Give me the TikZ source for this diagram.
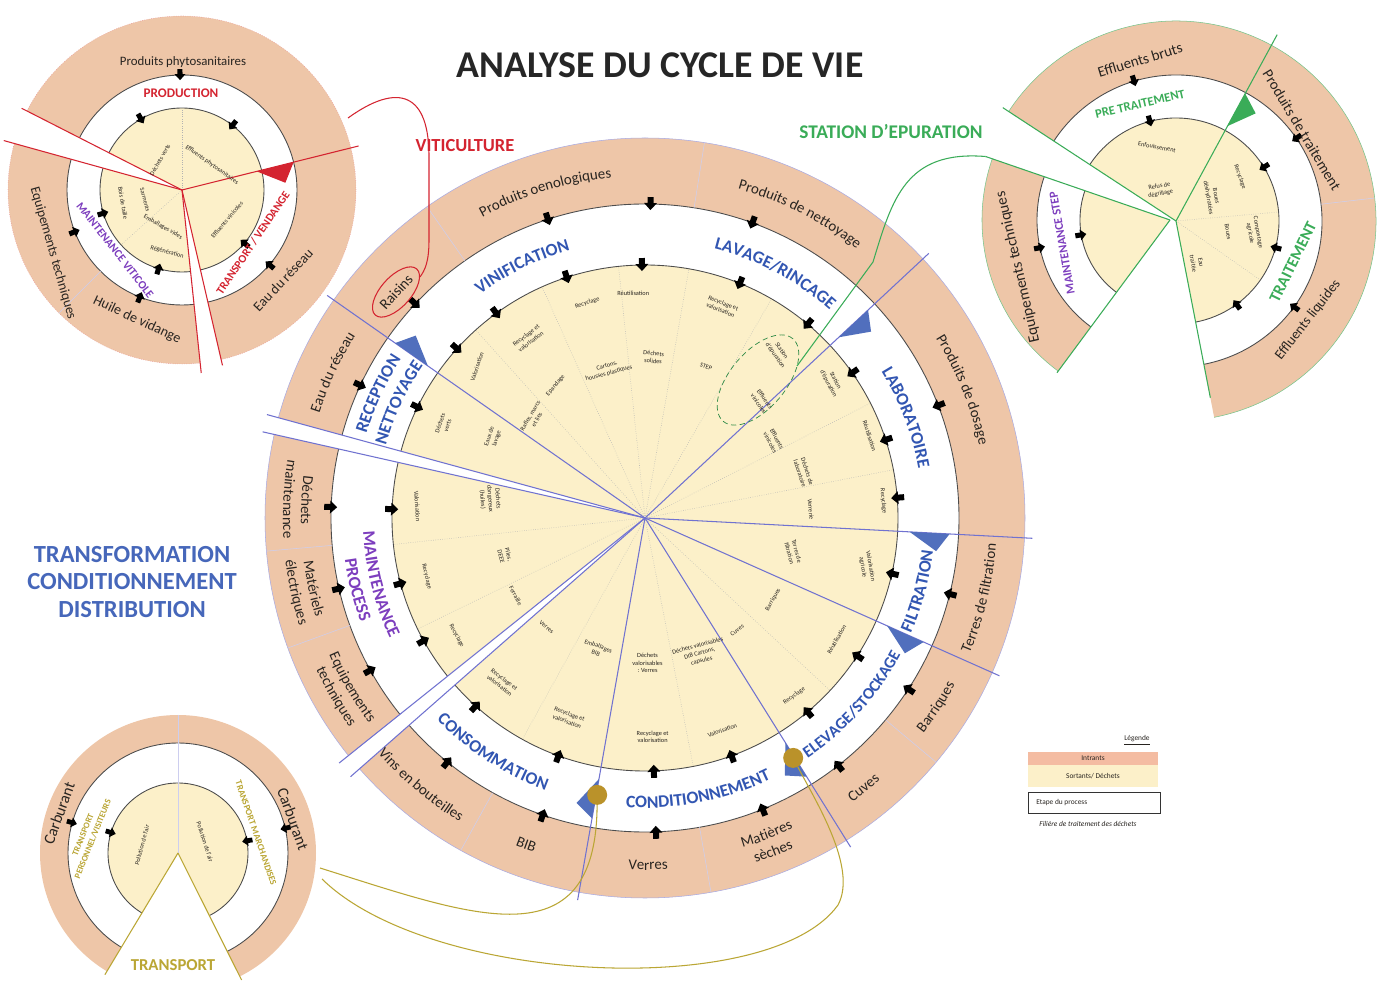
\documentclass[tikz,border=0pt]{standalone}
\usepackage{fontspec}
\setmainfont{Carlito}
\usetikzlibrary{calc,decorations.text}

\definecolor{ringc}{RGB}{238,198,168}
\definecolor{creamc}{RGB}{252,240,201}
\definecolor{legsalmon}{RGB}{244,188,162}
\definecolor{stageblue}{RGB}{50,86,178}
\definecolor{lineblue}{RGB}{112,114,208}
\definecolor{mauve}{RGB}{125,62,190}
\definecolor{vitired}{RGB}{212,36,48}
\definecolor{stepgreen}{RGB}{58,172,88}
\definecolor{olivec}{RGB}{186,166,52}
\definecolor{goldc}{RGB}{186,146,42}
\definecolor{inktxt}{RGB}{40,36,32}

\newcommand{\stgfont}{\fontsize{10}{12}\selectfont\bfseries\color{stageblue}}
\newcommand{\stgsmall}{\fontsize{9.3}{12}\selectfont\bfseries\color{stageblue}}
\newcommand{\mtfont}{\fontsize{10}{12}\selectfont\bfseries\color{mauve}}
\newcommand{\rngfont}{\fontsize{8.5}{10}\selectfont\color{inktxt}}

% marker: scale, centre, angle, radius
\newcommand{\mk}[4][1]{\fill[black, shift={($(#2)+(#3:#4)$)}, rotate=#3, scale=#1]
  (7,-3) -- (7,3) -- (1,3) -- (1,6.5) -- (-6,0) -- (1,-6.5) -- (1,-3) -- cycle;}
% stage flag: centre, angle, r1, r2, offset, colour
\newcommand{\flag}[6]{\fill[#6] ($(#1)+(#2:#3)$) -- ($(#1)+(#2:#4)$)
  -- ($(#1)+({#2-#5}:{0.3*#3+0.7*#4})$) -- cycle;}
% text on arc: centre, from, to, radius, text
\newcommand{\arctext}[5]{\path[decorate, decoration={text along path,
  text align=center, text={#5}}] ($(#1)+(#2:#4)$) arc[start angle=#2, end angle=#3, radius=#4];}
% wheel sector: centre, from, to, inner, middle, outer
\newcommand{\wheelpart}[6]{%
  \fill[ringc] (#1) -- ($(#1)+(#2:#6)$) arc[start angle=#2, end angle=#3, radius=#6] -- cycle;
  \fill[white] (#1) -- ($(#1)+(#2:#5)$) arc[start angle=#2, end angle=#3, radius=#5] -- cycle;
  \fill[creamc] (#1) -- ($(#1)+(#2:#4)$) arc[start angle=#2, end angle=#3, radius=#4] -- cycle;
  \draw[darkline] ($(#1)+(#2:#5)$) arc[start angle=#2, end angle=#3, radius=#5];
  \draw[darkline] ($(#1)+(#2:#4)$) arc[start angle=#2, end angle=#3, radius=#4];
  \draw[stepgreen!70, line width=0.3pt] ($(#1)+(#2:#6)$) arc[start angle=#2, end angle=#3, radius=#6];}

\tikzset{
  darkline/.style={draw=black!70, line width=0.5pt},
  stageline/.style={draw=lineblue, line width=0.6pt},
  ringdiv/.style={draw=lineblue!35, line width=0.3pt},
  dotdiv/.style={draw=black!30, densely dotted, line width=0.3pt},
  subtxt/.style={font=\fontsize{3.6}{4.4}\selectfont, text=inktxt, align=center, inner sep=0pt},
  ringtxt/.style={font=\fontsize{8.5}{10}\selectfont, text=inktxt, align=center, inner sep=0pt},
  legtxt/.style={font=\fontsize{4.2}{5}\selectfont, text=inktxt, inner sep=0pt},
  goldball/.style={circle, fill=goldc, minimum size=0.4cm, inner sep=0pt},
  vitiline/.style={draw=vitired, line width=0.6pt},
  stepline/.style={draw=stepgreen, line width=0.6pt},
  oliveline/.style={draw=olivec, line width=0.6pt},
}

\begin{document}
\begin{tikzpicture}[x=0.02cm, y=0.02cm]
  \path[use as bounding box, fill=white] (0,0) rectangle (1384,-989);

  % Titles
  \node[font=\fontsize{21.5}{24}\selectfont\bfseries, text=black!85] (title) at (660,-65) {ANALYSE DU CYCLE DE VIE};
  \node[font=\fontsize{14}{15.5}\selectfont\bfseries, text=stageblue!90, align=center] (tcd) at (132,-582) {TRANSFORMATION\\CONDITIONNEMENT\\DISTRIBUTION};
  \node[font=\fontsize{10.5}{12}\selectfont\bfseries, text=vitired] (viti) at (465,-146) {VITICULTURE};
  \node[font=\fontsize{11}{13}\selectfont\bfseries, text=stepgreen] (steplbl) at (891,-132) {STATION D’EPURATION};

  % Main wheel
  \coordinate (C) at (645,-518);
  \fill[ringc] (C) circle (380);
  \draw[lineblue!60, line width=0.3pt] (C) circle (380);
  \fill[white] (C) circle (314);
  \fill[creamc] (C) circle (253);
  \draw[darkline] (C) circle (314);
  \draw[darkline] (C) circle (253);

  % Draw dividers
  \foreach \a in {125,81,-40,-80,-119,-160,-175}
    \draw[ringdiv] ($(C)+(\a:314)$) -- ($(C)+(\a:380)$);
  \foreach \a in {132,114,96,80,60,27,11,-43,-79,-119,-154,-174}
    \draw[dotdiv] (C) -- ($(C)+(\a:253)$);

  % Gaps around maintenance
  \foreach \a in {166,-140} {
    \fill[white] (C) -- ($(C)+({\a+1.3}:392)$) -- ($(C)+({\a-1.3}:392)$) -- cycle;
    \draw[stageline] (C) -- ($(C)+({\a+1.3}:392)$);
    \draw[stageline] (C) -- ($(C)+({\a-1.3}:392)$);
  }

  % Stage lines and flags
  \foreach \a in {145,43,-3,-24,-58,-100} {
    \draw[stageline] (C) -- ($(C)+(\a:388)$);
    \flag{C}{\a}{265}{305}{3.5}{stageblue!85}
  }
  \node[goldball] (gelev) at ($(C)+(-58.3:282)$) {};
  \node[goldball] (gcond) at ($(C)+(-99.8:281)$) {};

  % Markers
  \foreach \a in {155,137,108,89,70,21,-14,-33,-52,-68,-88,-109,-129,-151,-167,178} {
    \mk{C}{\a}{314}
  }
  \foreach \a in {90.7,108,126,138,154,178,-165,-151,-132,-110,-88,-70,-50,-33,-12.7,4.6,18,35,50,68} {
    \mk{C}{\a}{253}
  }

  % Inputs on the outer ring
  \arctext{C}{175}{135}{342}{|\rngfont|Eau du réseau}
  \arctext{C}{134}{80}{342}{|\rngfont|Produits oenologiques}
  \arctext{C}{90}{36}{342}{|\rngfont|Produits de nettoyage}
  \arctext{C}{49}{-5}{342}{|\rngfont|Produits de dosage}
  \arctext{C}{-40}{13}{352}{|\rngfont|Terres de filtration}
  \arctext{C}{-48}{-18}{352}{|\rngfont|Barriques}
  \arctext{C}{-62}{-40}{352}{|\rngfont|Cuves}
  \arctext{C}{-85}{-53}{344}{|\rngfont|Matières}
  \arctext{C}{-85}{-53}{362}{|\rngfont|sèches}
  \arctext{C}{-100}{-79}{352}{|\rngfont|Verres}
  \arctext{C}{-120}{-100}{352}{|\rngfont|BIB}
  \arctext{C}{-150}{-110}{356}{|\rngfont|Vins en bouteilles}
  \arctext{C}{-165}{-135}{344}{|\rngfont|Equipements}
  \arctext{C}{-165}{-135}{362}{|\rngfont|techniques}
  \arctext{C}{-183}{-153}{344}{|\rngfont|Matériels}
  \arctext{C}{-183}{-153}{362}{|\rngfont|électriques}
  \arctext{C}{-198}{-168}{344}{|\rngfont|Déchets}
  \arctext{C}{-198}{-168}{362}{|\rngfont|maintenance}
  \node[ringtxt, rotate=48] (raisins) at (396,-292) {Raisins};
  \draw[vitired, line width=0.6pt, rotate around={48:(396,-292)}] (396,-292) ellipse [x radius=31, y radius=15];

  % Stages
  \arctext{C}{175}{135}{291}{|\stgfont|RECEPTION}
  \arctext{C}{175}{135}{269}{|\stgfont|NETTOYAGE}
  \arctext{C}{140}{92}{278}{|\stgfont|VINIFICATION}
  \arctext{C}{86}{38}{278}{|\stgfont|LAVAGE/RINCAGE}
  \arctext{C}{45}{-3}{278}{|\stgfont|LABORATOIRE}
  \arctext{C}{-40}{10}{290}{|\stgfont|FILTRATION}
  \arctext{C}{-71}{-13}{290}{|\stgsmall|ELEVAGE/STOCKAGE}
  \arctext{C}{-108}{-50}{290}{|\stgfont|CONDITIONNEMENT}
  \arctext{C}{-150}{-96}{290}{|\stgfont|CONSOMMATION}
  \arctext{C}{-190}{-142}{282}{|\mtfont|MAINTENANCE}
  \arctext{C}{-190}{-142}{303}{|\mtfont|PROCESS}

  % Outputs in the cream disc
  \foreach \a/\r/\t/\w [count=\i] in {138/226/72/{Valorisation}, 155/222/72/{Déchets\\verts},
      152/172/72/{Eaux de\\lavage}, 138/150/60/{Rafles, marcs\\et lies}, 123/214/38/{Recyclage et\\valorisation},
      124/160/50/{Epandage}, 105/223/18/{Recyclage}, 104/153/15/{Cartons,\\housses plastiques},
      93/225/0/{Réutilisation}, 87/161/-5/{Déchets\\solides}, 70/225/-22/{Recyclage et\\valorisation},
      68/163/-20/{STEP}, 51/212/-55/{Station\\d’épuration}, 45/165/-55/{Effluents\\vinicoles},
      36/231/-62/{Station\\d’épuration}, 31/150/-62/{Effluents\\vinicoles}, 16/165/-72/{Déchets de\\laboratoire},
      20/239/-72/{Réutilisation}, 4/239/-85/{Recyclage}, 3/166/-85/{Verrerie},
      -13/152/-75/{Terres de\\filtration}, -12.4/227/-80/{Valorisation\\agricole}, -32.6/152/60/{Barriques},
      -32.4/227/60/{Réutilisation}, -50/232/35/{Recyclage}, -50.6/145/35/{Cuves},
      -68/146/15/{Déchets valorisables\\DIB Cartons,\\capsules}, -70/226/18/{Valorisation},
      -89/145/0/{Déchets\\valorisables\\: Verres}, -88/219/0/{Recyclage et\\valorisation},
      -110/140/-20/{Emballages\\BIB}, -111/214/-20/{Recyclage et\\valorisation}, -132/147/-38/{Verres},
      -131/218/-38/{Recyclage et\\valorisation}, -148/222/-62/{Recyclage}, -165/226/-76/{Recyclage},
      177/228/-86/{Valorisation}, 173/156/-86/{Déchets\\dangereux\\(huiles)}, -165/145/-76/{Piles,\\DEEE},
      -149/151/-62/{Ferraille}}
    \node[subtxt, rotate=\t] (sub\i) at ($(C)+(\a:\r)$) {\w};
  \draw[stepgreen!80!black, densely dashed, line width=0.4pt, rotate around={50:(758,-380)}] (758,-380) ellipse [x radius=54, y radius=28];

  % Viticulture wheel
  \coordinate (V) at (182,-190);
  \fill[ringc] (V) circle (174);
  \draw[vitired!50, densely dotted, line width=0.3pt] (V) circle (174);
  \fill[white] (V) circle (115);
  \fill[creamc] (V) circle (82);
  \draw[darkline] (V) circle (115);
  \draw[darkline] (V) circle (82);
  \draw[ringdiv] ($(V)+(-135:115)$) -- ($(V)+(-135:174)$);
  \draw[dotdiv] (V) -- ($(V)+(90:82)$);
  \draw[dotdiv] (V) -- ($(V)+(-138:82)$);
  \fill[white] (V) -- ($(V)+(153:190)$) -- ($(V)+(164.5:190)$) -- cycle;
  \fill[white] (V) -- ($(V)+(-84:190)$) -- ($(V)+(-77:190)$) -- cycle;
  \foreach \a/\r in {153/180,164.5/185,14/182,-84/184,-77/180}
    \draw[vitiline] (V) -- ($(V)+(\a:\r)$);
  \flag{V}{14}{77}{115}{10}{vitired}
  \foreach \a in {91,-158.7,-111.5,-40.5} {
    \mk[0.85]{V}{\a}{115}
  }
  \foreach \a in {120,52,-163.5,-106.6,-40.4} {
    \mk[0.85]{V}{\a}{82}
  }
  \node[ringtxt, font=\fontsize{7.3}{8}\selectfont] (phyto) at (183,-62) {Produits phytosanitaires};
  \node[font=\fontsize{7.5}{9}\selectfont\bfseries, text=vitired] (prod) at (181,-93) {PRODUCTION};
  \node[ringtxt, font=\fontsize{7.8}{9}\selectfont, rotate=-74] (eqv) at (53,-253) {Equipements techniques};
  \node[ringtxt, font=\fontsize{8}{9}\selectfont, rotate=-25] (huile) at (137,-320) {Huile de vidange};
  \node[ringtxt, font=\fontsize{8}{9}\selectfont, rotate=47] (eauv) at (283,-280) {Eau du réseau};
  \node[font=\fontsize{6.5}{8}\selectfont\bfseries, text=mauve, rotate=-52] (mvit) at (115,-250) {MAINTENANCE VITICOLE};
  \node[font=\fontsize{6.5}{8}\selectfont\bfseries, text=vitired, rotate=56] (tven) at (253,-243) {TRANSPORT / VENDANGE};
  \node[subtxt, rotate=60] (vc1) at (160,-160) {Déchets verts};
  \node[subtxt, rotate=-35] (vc2) at (212,-165) {Effluents phytosanitaires};
  \node[subtxt, rotate=-80] (vc3) at (123,-203) {Bois de taille};
  \node[subtxt, rotate=-75] (vc4) at (145,-200) {Sarments};
  \node[subtxt, rotate=-30] (vc5) at (163,-227) {Emballages vides};
  \node[subtxt, rotate=-15] (vc6) at (167,-252) {Régénération};
  \node[subtxt, rotate=50] (vc7) at (227,-220) {Effluents vinicoles};

  % Station d'epuration wheel
  \coordinate (S) at (1176,-221);
  \coordinate (S2) at (1170,-220);
  \wheelpart{S}{-79}{146.8}{103}{146}{200}
  \wheelpart{S2}{161}{233.5}{90}{133}{188}
  \draw[ringdiv] ($(S)+(6.6:146)$) -- ($(S)+(6.6:200)$);
  \draw[dotdiv] (S) -- ($(S)+(5:103)$);
  \draw[dotdiv] (S) -- ($(S)+(-35:103)$);
  \foreach \a/\r in {61.5/212,146.8/207,-79/180}
    \draw[stepline] (S) -- ($(S)+(\a:\r)$);
  \foreach \a/\r in {161/195,233.5/190}
    \draw[stepline] (S2) -- ($(S2)+(\a:\r)$);
  \flag{S}{61.5}{108}{145}{8}{stepgreen}
  \foreach \a in {106.7,34.5,-36} {
    \mk[0.85]{S}{\a}{146}
  }
  \foreach \a in {104.7,31.5,-15,-54} {
    \mk[0.85]{S}{\a}{103}
  }
  \mk[0.85]{S2}{-168}{133}
  \mk[0.85]{S2}{-170.5}{90}
  \node[ringtxt, font=\fontsize{8.5}{10}\selectfont, rotate=17] (brut) at (1140,-60) {Effluents bruts};
  \node[font=\fontsize{7.2}{9}\selectfont\bfseries, text=stepgreen, rotate=13] (pretr) at (1140,-104) {PRE TRAITEMENT};
  \node[ringtxt, font=\fontsize{8.5}{10}\selectfont, rotate=-59] (ptrt) at (1302,-130) {Produits de traitement};
  \node[font=\fontsize{9.2}{11}\selectfont\bfseries, text=stepgreen, rotate=64] (trt) at (1293,-262) {TRAITEMENT};
  \node[ringtxt, font=\fontsize{8}{9}\selectfont, rotate=52] (liq) at (1308,-320) {Effluents liquides};
  \node[ringtxt, font=\fontsize{8.8}{10}\selectfont, rotate=103] (eqs) at (1018,-267) {Equipements techniques};
  \node[font=\fontsize{6.9}{8}\selectfont\bfseries, text=mauve, rotate=100] (mstep) at (1062,-243) {MAINTENANCE STEP};
  \node[subtxt, rotate=-10] (sc1) at (1157,-147) {Enfouissement};
  \node[subtxt, rotate=10] (sc2) at (1160,-190) {Refus de\\dégrillage};
  \node[subtxt, rotate=-70] (sc3) at (1240,-177) {Recyclage};
  \node[subtxt, rotate=-80] (sc4) at (1212,-197) {Boues\\déshydratées};
  \node[subtxt, rotate=-80] (sc5) at (1254,-233) {Compostage\\agricole};
  \node[subtxt, rotate=-80] (sc6) at (1228,-232) {Boues};
  \node[subtxt, rotate=-80] (sc7) at (1197,-263) {Eau\\traitée};

  % Transport wheel
  \coordinate (T) at (178,-853);
  \fill[ringc] (T) circle (138);
  \fill[white] (T) circle (110);
  \fill[creamc] (T) circle (70);
  \draw[darkline] (T) circle (110);
  \draw[darkline] (T) circle (70);
  \draw[ringdiv] (T) -- ($(T)+(90:138)$);
  \fill[white] (T) -- ($(T)+(-121:150)$) arc[start angle=-121, end angle=-63.4, radius=150] -- cycle;
  \draw[oliveline] (T) -- ($(T)+(-121:142)$);
  \draw[oliveline] (T) -- ($(T)+(-63.4:142)$);
  \foreach \a in {164,13} {
    \mk[0.8]{T}{\a}{110}
  }
  \foreach \a in {163,10} {
    \mk[0.8]{T}{\a}{70}
  }
  \node[ringtxt, font=\fontsize{9}{10}\selectfont, rotate=70] (carbl) at (59,-813) {Carburant};
  \node[ringtxt, font=\fontsize{9}{10}\selectfont, rotate=-70] (carbr) at (293,-819) {Carburant};
  \node[font=\fontsize{5}{6}\selectfont\bfseries, text=olivec, align=center, rotate=68] (tpers) at (88,-837) {TRANSPORT\\PERSONNEL/VISITEURS};
  \node[font=\fontsize{5.2}{6}\selectfont\bfseries, text=olivec, rotate=-71] (tmarch) at (256,-833) {TRANSPORT MARCHANDISES};
  \node[font=\fontsize{9.5}{11}\selectfont\bfseries, text=olivec] (trans) at (173,-965) {TRANSPORT};
  \node[subtxt, rotate=75] (tc1) at (142,-845) {Pollution de l’air};
  \node[subtxt, rotate=-72] (tc2) at (205,-842) {Pollution de l’air};

  % Links between wheels
  \coordinate (vitstart) at (348,-118);
  \coordinate (raisinstop) at (420,-277);
  \draw[vitiline] (vitstart) .. controls (398,-82) and (430,-92) .. (429,-160) -- (429,-240)
    .. controls (429,-262) and (425,-270) .. (raisinstop);
  \coordinate (stepstart) at ($(S2)+(161:195)$);
  \coordinate (epur) at (797,-366);
  \draw[stepline] (stepstart) .. controls (905,-150) and (892,-200) .. (873,-262) -- (epur);
  \coordinate (transA) at (320,-868);
  \coordinate (transB) at (322,-879);
  \draw[oliveline] (transA) .. controls (470,-915) and (596,-965) .. (gcond);
  \draw[oliveline] (transB) .. controls (430,-985) and (770,-1000) .. (838,-905)
    .. controls (858,-868) and (815,-800) .. (gelev);

  % Legend
  \node[legtxt] (leg) at (1137,-740) {\underline{Légende}};
  \fill[legsalmon] (1028,-752) rectangle (1158,-765);
  \fill[creamc] (1028,-765) rectangle (1158,-787);
  \node[legtxt] (legin) at (1093,-758.5) {Intrants};
  \node[legtxt] (legout) at (1093,-776) {Sortants/ Déchets};
  \draw[black!80, line width=0.5pt] (1028,-792) rectangle (1160,-813);
  \node[legtxt, anchor=west] (legstep) at (1036,-802.5) {Etape du process};
  \node[legtxt, font=\fontsize{4.2}{5}\selectfont\itshape] (legfil) at (1088,-824) {Filière de traitement des déchets};
\end{tikzpicture}
\end{document}
